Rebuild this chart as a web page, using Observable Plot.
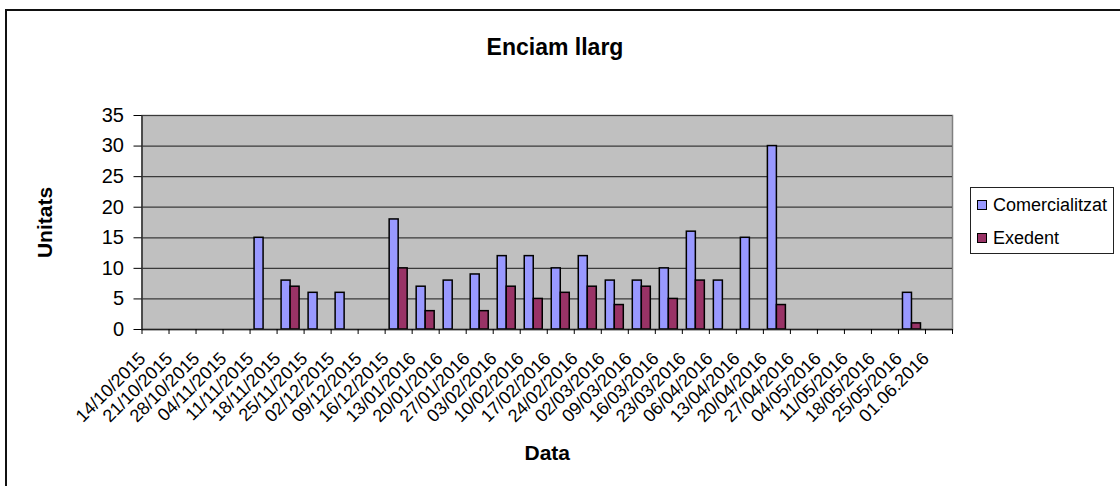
<!DOCTYPE html>
<html>
<head>
<meta charset="utf-8">
<script src="https://cdn.jsdelivr.net/npm/d3@7"></script>
<script src="https://cdn.jsdelivr.net/npm/@observablehq/plot@0.6"></script>
<style>
  html, body { margin: 0; padding: 0; background: #fff; }
  #wrap { position: relative; width: 1120px; height: 486px; overflow: hidden; font-family: "Liberation Sans", Arial, sans-serif; }
  #border { position: absolute; left: 5px; top: 9px; width: 1200px; height: 600px; border-left: 2px solid #111; border-top: 2px solid #111; }
  #title { position: absolute; left: 0; width: 1110px; top: 34px; text-align: center; font-weight: bold; font-size: 23px; color: #000; }
  #chart { position: absolute; left: 0; top: 0; }
  #legend { position: absolute; left: 970px; top: 187px; width: 144px; height: 67px; border: 1px solid #222; box-sizing: border-box; background: #fff; }
  .item { position: absolute; left: 6px; font-size: 18px; line-height: 20px; color: #000; white-space: nowrap; }
  .sw { display: inline-block; width: 8px; height: 8px; border: 1px solid #000; margin-right: 6px; vertical-align: 1px; }
</style>
</head>
<body>
<div id="wrap">
  <div id="border"></div>
  <div id="chart"></div>
  <div id="title">Enciam llarg</div>
  <div id="legend"></div>
</div>
<script>
const dates = ["14/10/2015","21/10/2015","28/10/2015","04/11/2015","11/11/2015","18/11/2015","25/11/2015","02/12/2015","09/12/2015","16/12/2015","13/01/2016","20/01/2016","27/01/2016","03/02/2016","10/02/2016","17/02/2016","24/02/2016","02/03/2016","09/03/2016","16/03/2016","23/03/2016","06/04/2016","13/04/2016","20/04/2016","27/04/2016","04/05/2016","11/05/2016","18/05/2016","25/05/2016","01.06.2016"];
const comercialitzat = [0,0,0,0,15,8,6,6,0,18,7,8,9,12,12,10,12,8,8,10,16,8,15,30,0,0,0,0,6,0];
const exedent        = [0,0,0,0,0,7,0,0,0,10,3,0,3,7,5,6,7,4,7,5,8,0,0,4,0,0,0,0,1,0];
const seriesNames = ["Comercialitzat","Exedent"];
const seriesColors = ["#9999FF","#993366"];
const yTicks = [0,5,10,15,20,25,30,35];

const rows = [];
dates.forEach((d, i) => {
  rows.push({i, date: d, series: seriesNames[0], k: 0, value: comercialitzat[i]});
  rows.push({i, date: d, series: seriesNames[1], k: 1, value: exedent[i]});
});
const bars = rows.filter(r => r.value > 0);

const plot = Plot.plot({
  width: 1120,
  height: 486,
  marginLeft: 141.5,
  marginRight: 168,
  marginTop: 115,
  marginBottom: 157,
  style: {fontFamily: "'Liberation Sans', Arial, sans-serif", background: "transparent", color: "#000"},
  x: {type: "linear", domain: [0, dates.length]},
  y: {domain: [0, 35]},
  color: {domain: seriesNames, range: seriesColors},
  marks: [
    Plot.frame({fill: "#C0C0C0", stroke: "#808080", strokeWidth: 1.5}),
    Plot.gridY(yTicks.filter(t => t > 0), {stroke: "#3a3a3a", strokeOpacity: 1, strokeWidth: 1.2}),
    Plot.rectY(bars, {
      x1: d => d.i + 1/6 + d.k / 3,
      x2: d => d.i + 1/2 + d.k / 3,
      y1: 0,
      y2: "value",
      fill: "series",
      stroke: "#000",
      strokeWidth: 1.5
    }),
    Plot.ruleX([0], {stroke: "#333", strokeWidth: 1.5}),
    Plot.ruleY([0], {stroke: "#222", strokeWidth: 1.5}),
    Plot.axisY({ticks: yTicks, tickSize: 8, tickPadding: 10, fontSize: 20, label: "Unitats", labelAnchor: "center", labelArrow: "none", labelOffset: 105, tickFormat: d => String(d)}),
    Plot.axisX({ticks: d3.range(dates.length + 1), tickSize: 5, tickFormat: () => "", label: null}),
    Plot.axisX({ticks: dates.map((d, i) => i + 0.5), tickSize: 0, tickPadding: 26, dx: -13, tickRotate: -45, fontSize: 18, tickFormat: v => dates[Math.floor(v)], label: "Data", labelAnchor: "center", labelArrow: "none", labelOffset: 130})
  ]
});
document.getElementById("chart").appendChild(plot);

// bold axis titles
plot.querySelectorAll("g[aria-label='y-axis label'] text, g[aria-label='x-axis label'] text").forEach(t => {
  t.setAttribute("font-weight", "bold");
  t.setAttribute("font-size", "21");
});

const legend = document.getElementById("legend");
seriesNames.forEach((name, j) => {
  const it = document.createElement("div");
  it.className = "item";
  it.style.top = (j === 0 ? 7 : 40) + "px";
  const sw = document.createElement("span");
  sw.className = "sw";
  sw.style.background = seriesColors[j];
  it.appendChild(sw);
  it.appendChild(document.createTextNode(name));
  legend.appendChild(it);
});
</script>
</body>
</html>
